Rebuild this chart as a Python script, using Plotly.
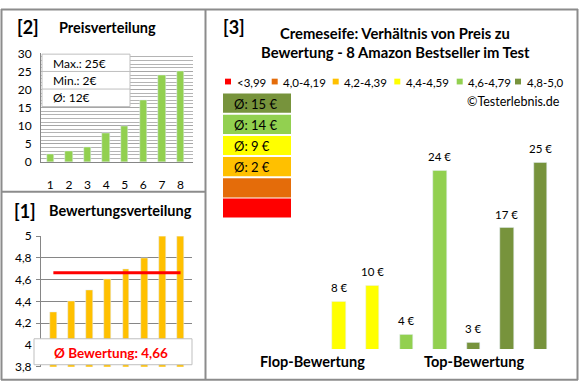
import plotly.graph_objects as go

# ---------------- data ----------------
products = [1, 2, 3, 4, 5, 6, 7, 8]
prices_sorted = [2, 3, 4, 8, 10, 17, 24, 25]          # [2] Preisverteilung
ratings = [4.3, 4.4, 4.5, 4.6, 4.7, 4.8, 5.0, 5.0]     # [1] Bewertungsverteilung
price_by_rating = [2, 8, 10, 4, 24, 3, 17, 25]         # [3] Preis je Produkt (nach Bewertung)
price_ticks = [0, 5, 10, 15, 20, 25, 30]

cat_labels = ["<3,99", "4,0-4,19", "4,2-4,39", "4,4-4,59", "4,6-4,79", "4,8-5,0"]
cat_lower = [0.0, 4.0, 4.2, 4.4, 4.6, 4.8]
cat_colors = ["#FF0000", "#E46C0A", "#FFC000", "#FFFF00", "#92D050", "#77933C"]

# ---------------- helpers ----------------
W, H = 580, 390
FONT = "Lato, 'Open Sans', sans-serif"


def px(x):
    return x / W


def py(y):
    return 1 - y / H


def cat_index(r):
    idx = 0
    for i, lo in enumerate(cat_lower):
        if r >= lo - 1e-9:
            idx = i
    return idx


bar_colors = [cat_colors[cat_index(r)] for r in ratings]
mean_rating = sum(ratings) / len(ratings)
p_max, p_min = max(prices_sorted), min(prices_sorted)
p_avg = sum(prices_sorted) / len(prices_sorted)

fig = go.Figure()

# [2] Preisverteilung
fig.add_trace(go.Bar(x=products, y=prices_sorted, marker_color="#92D050",
                     width=0.4, xaxis="x", yaxis="y", hoverinfo="skip"))
# [1] Bewertungsverteilung
fig.add_trace(go.Bar(x=products, y=ratings, marker_color="#FFC000",
                     width=0.38, xaxis="x2", yaxis="y2", hoverinfo="skip"))
fig.add_trace(go.Scatter(x=[products[0], products[-1]], y=[mean_rating, mean_rating],
                         mode="lines", line=dict(color="#FF0000", width=3),
                         xaxis="x2", yaxis="y2", hoverinfo="skip"))
# [3] Preis / Bewertung
fig.add_trace(go.Bar(x=products, y=price_by_rating, marker_color=bar_colors,
                     width=0.4, xaxis="x3", yaxis="y3", hoverinfo="skip"))

annotations = []
shapes = []
GRID = "#a6a6a6"
AX = "#868686"
BORDER = "#8c8c8c"

# bar labels panel 3
for x, p in zip(products, price_by_rating):
    annotations.append(dict(x=x, y=p, xref="x3", yref="y3", text=f"{p} €",
                            showarrow=False, yanchor="middle", yshift=14,
                            font=dict(size=11.5, color="#000")))

# titles
def txt(x, y, s, size=12, bold=False, color="#000", xanchor="left"):
    annotations.append(dict(x=px(x), y=py(y), xref="paper", yref="paper",
                            text=f"<b>{s}</b>" if bold else s, showarrow=False,
                            xanchor=xanchor, yanchor="middle",
                            font=dict(size=size, color=color)))

txt(15, 20, "[2]", 18, True)
txt(57, 20, "Preisverteilung", 14.5, True)
txt(12, 211, "[1]", 18, True)
txt(47, 211, "Bewertungsverteilung", 14.5, True)
txt(221, 20, "[3]", 18, True)
txt(395, 26, "Cremeseife: Verhältnis von Preis zu", 14.8, True, xanchor="center")
txt(395, 46, "Bewertung - 8 Amazon Bestseller im Test", 14.8, True, xanchor="center")
txt(562, 97, "©Testerlebnis.de", 12.5, xanchor="right")
txt(312, 368, "Flop-Bewertung", 14.5, True, xanchor="center")
txt(474, 368, "Top-Bewertung", 14.5, True, xanchor="center")

# legend
leg_sq = [225, 271.7, 332.7, 394.3, 456.7, 515]
for lab, col, x0 in zip(cat_labels, cat_colors, leg_sq):
    shapes.append(dict(type="rect", xref="paper", yref="paper", x0=px(x0), x1=px(x0 + 6),
                       y0=py(79.5), y1=py(73.5), fillcolor=col, line=dict(width=0)))
    txt(x0 + 9.5, 77, lab, 11.5)

# average boxes (top: best category)
box_tops = [89, 111, 133, 155, 177, 198]
for k, ci in enumerate(reversed(range(len(cat_colors)))):
    t = box_tops[k]
    shapes.append(dict(type="rect", xref="paper", yref="paper", x0=px(223), x1=px(291),
                       y0=py(t + 20), y1=py(t), fillcolor=cat_colors[ci], line=dict(width=0)))
    vals = [p for p, r in zip(price_by_rating, ratings) if cat_index(r) == ci]
    if vals:
        txt(232, t + 10.5, f"Ø: {round(sum(vals) / len(vals))} €", 13)

# info box panel 2
shapes.append(dict(type="rect", xref="paper", yref="paper", x0=px(42), x1=px(130),
                   y0=py(102.5), y1=py(48), fillcolor="white", line=dict(color="#bfbfbf", width=1)))
for yy in (66, 84.3):
    shapes.append(dict(type="line", xref="paper", yref="paper", x0=px(42), x1=px(130),
                       y0=py(yy), y1=py(yy), line=dict(color="#bfbfbf", width=1)))
txt(51, 57.5, f"Max.: {p_max}€", 12)
txt(51, 75.5, f"Min.: {p_min}€", 12)
txt(51, 93.5, f"Ø: {round(p_avg)}€", 12)

# box panel 1
shapes.append(dict(type="rect", xref="paper", yref="paper", x0=px(34), x1=px(192),
                   y0=py(371), y1=py(344), fillcolor="white", line=dict(color="#bfbfbf", width=1)))
txt(111, 359, "Ø Bewertung: " + f"{mean_rating:.2f}".replace(".", ","), 13.5, True,
    color="#FF0000", xanchor="center")

# frame
for x0, y0, x1, y1 in [(1, 1.5, 578, 1.5), (1, 386.5, 578, 386.5), (1.5, 1, 1.5, 387),
                       (577.5, 1, 577.5, 387), (205.5, 1, 205.5, 387), (1, 191, 205.5, 191)]:
    shapes.append(dict(type="line", xref="paper", yref="paper", x0=px(x0), x1=px(x1),
                       y0=py(y0), y1=py(y1), line=dict(color=BORDER, width=2)))

fig.update_layout(
    width=W, height=H, margin=dict(l=0, r=0, t=0, b=0),
    paper_bgcolor="white", plot_bgcolor="rgba(0,0,0,0)",
    showlegend=False, bargap=0, separators=",.",
    font=dict(family=FONT, size=12, color="#000"),
    annotations=annotations, shapes=shapes,
    xaxis=dict(domain=[px(41), px(193)], range=[0.5, 8.67], anchor="y",
               tickvals=products, showline=True, linecolor=AX, showgrid=False,
               ticks="", ticklabelstandoff=12, zeroline=False, fixedrange=True),
    yaxis=dict(domain=[py(160), py(47)], range=[0, 30.05], tickvals=price_ticks, anchor="x",
               showgrid=True, gridcolor=GRID, showline=True, linecolor=AX,
               minor=dict(dtick=1, showgrid=True, gridcolor="#b4b4b4"),
               ticks="", ticklabelstandoff=6, zeroline=False, fixedrange=True),
    xaxis2=dict(domain=[px(41), px(192)], range=[0.32, 8.63], anchor="y2",
                showticklabels=False, showgrid=False, showline=False, zeroline=False,
                fixedrange=True),
    yaxis2=dict(domain=[py(373), py(237.3)], range=[3.8, 5.0], dtick=0.2, anchor="x2",
                showgrid=True, gridcolor=AX, showline=True, linecolor=AX,
                ticks="outside", ticklen=4, tickcolor=AX, ticklabelstandoff=2,
                zeroline=False, fixedrange=True),
    xaxis3=dict(domain=[px(290), px(560)], range=[0.538, 8.58], anchor="y3",
                visible=False, fixedrange=True),
    yaxis3=dict(domain=[py(354.7), py(109.9)], range=[2.2, 31], anchor="x3",
                visible=False, fixedrange=True),
)

fig.write_html(
    "out.html",
    config={"displayModeBar": False},
    post_script=(
        "document.body.style.margin='0';document.body.style.padding='0';"
        "document.body.style.overflow='hidden';"
    ),
)
